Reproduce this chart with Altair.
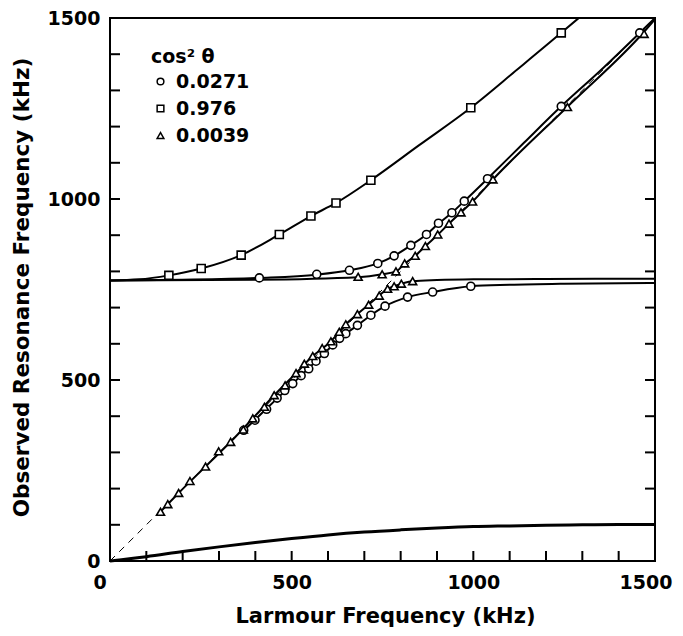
import altair as alt
import pandas as pd

# ---- data ----
series_names = ["0.0271", "0.976", "0.0039"]

sq_x = [162, 251, 361, 466, 553, 622, 718, 993, 1242]
sq_y = [789, 808, 845, 902, 953, 989, 1052, 1252, 1459]

circ_x = [411, 569, 659, 737, 782, 828, 871, 904, 941, 975, 1039, 1242, 1458,
          368, 399, 431, 460, 481, 503, 526, 547, 567, 590, 613, 632, 649, 681,
          718, 757, 819, 888, 993]
circ_y = [782, 792, 803, 822, 843, 872, 902, 933, 962, 994, 1056, 1256, 1459,
          361, 389, 419, 450, 471, 490, 512, 531, 552, 573, 597, 615, 628, 651,
          679, 704, 729, 743, 759]

tri_x = [139, 159, 189, 220, 263, 299, 332, 367, 393, 425, 452, 482, 512, 535,
         558, 584, 608, 631, 649, 681, 712, 741, 764, 782, 802, 833,
         683, 749, 787, 811, 840, 868, 902, 933, 966, 998, 1054, 1259, 1470]
tri_y = [136, 157, 188, 221, 261, 303, 329, 363, 394, 426, 458, 485, 519, 545,
         566, 588, 607, 633, 654, 682, 708, 733, 752, 759, 766, 773,
         785, 792, 800, 822, 843, 870, 902, 932, 963, 993, 1054, 1254, 1456]

# solid curves through the data
curve_sq_x = [0, 80, 162, 251, 361, 466, 553, 622, 718, 850, 993, 1120, 1242, 1290]
curve_sq_y = [775, 778, 789, 808, 845, 902, 953, 989, 1052, 1148, 1252, 1357, 1459, 1500]

curve_cu_x = [0, 200, 411, 569, 659, 737, 782, 828, 871, 904, 941, 975, 1039, 1140, 1242, 1350, 1458, 1500]
curve_cu_y = [775, 777, 782, 791, 803, 822, 843, 872, 902, 932, 962, 994, 1056, 1156, 1256, 1355, 1459, 1500]

curve_cl_x = [368, 429, 503, 567, 613, 649, 681, 718, 757, 819, 888, 993, 1100, 1250, 1500]
curve_cl_y = [360, 419, 490, 552, 596, 628, 651, 679, 704, 729, 743, 759, 763, 766, 768]

curve_tu_x = [0, 400, 683, 749, 787, 811, 840, 868, 902, 933, 966, 998, 1054, 1259, 1470, 1500]
curve_tu_y = [775, 777, 784, 792, 800, 821, 843, 870, 901, 932, 963, 993, 1054, 1255, 1462, 1497]

curve_tl_x = [139, 189, 263, 332, 393, 452, 512, 558, 608, 649, 681, 712, 741, 764, 782, 802, 833, 900, 1000, 1200, 1500]
curve_tl_y = [136, 188, 261, 329, 394, 458, 519, 566, 607, 654, 682, 708, 733, 752, 759, 766, 773, 776, 778, 779, 780]

curve_low_x = [0, 100, 200, 300, 400, 500, 600, 700, 800, 900, 1000, 1100, 1200, 1300, 1400, 1500]
curve_low_y = [0, 12, 26, 39, 51, 62, 72, 80, 86, 91, 95, 97, 99, 100, 101, 101]

diag_x = [0, 1500]
diag_y = [0, 1500]

tick_vals = [100, 200, 300, 400, 500, 600, 700, 800, 900, 1000, 1100, 1200, 1300, 1400]
label_vals = [0, 500, 1000, 1500]

# ---- tables ----
pts = pd.concat([
    pd.DataFrame({"x": circ_x, "y": circ_y, "s": series_names[0]}),
    pd.DataFrame({"x": sq_x, "y": sq_y, "s": series_names[1]}),
    pd.DataFrame({"x": tri_x, "y": tri_y, "s": series_names[2]}),
])
curves = pd.concat([
    pd.DataFrame({"x": curve_sq_x, "y": curve_sq_y, "c": "sq"}),
    pd.DataFrame({"x": curve_cu_x, "y": curve_cu_y, "c": "cu"}),
    pd.DataFrame({"x": curve_cl_x, "y": curve_cl_y, "c": "cl"}),
    pd.DataFrame({"x": curve_tu_x, "y": curve_tu_y, "c": "tu"}),
    pd.DataFrame({"x": curve_tl_x, "y": curve_tl_y, "c": "tl"}),
])
low = pd.DataFrame({"x": curve_low_x, "y": curve_low_y})
diag = pd.DataFrame({"x": diag_x, "y": diag_y})
ticks = pd.DataFrame({"x": tick_vals, "y": tick_vals})

W, H = 545, 543
FONT = "DejaVu Sans"
xs = alt.Scale(domain=[0, 1500], nice=False, zero=False)
ys = alt.Scale(domain=[0, 1500], nice=False, zero=False)

xaxis = alt.Axis(values=label_vals, format="d", title="Larmour Frequency (kHz)", ticks=False, tickSize=0,
                 domain=False, grid=False, labelFont=FONT, labelFontSize=19, labelFontWeight="bold",
                 labelColor="black", labelPadding=12, labelFlush=True, labelFlushOffset=17,
                 titleFont=FONT, titleFontSize=21, titleFontWeight="bold", titleColor="black",
                 titleX=275, titleY=61, titleBaseline="alphabetic", titleAlign="center")
yaxis = alt.Axis(values=label_vals, format="d", title="Observed Resonance Frequency (kHz)", ticks=False, tickSize=0,
                 domain=False, grid=False, labelFont=FONT, labelFontSize=19, labelFontWeight="bold",
                 labelColor="black", labelPadding=10, labelFlush=False,
                 titleFont=FONT, titleFontSize=21.5, titleFontWeight="bold", titleColor="black",
                 titleAngle=-90, titleX=-82, titleY=269, titleBaseline="alphabetic", titleAlign="center")

X = alt.X("x:Q", scale=xs, axis=xaxis)
Y = alt.Y("y:Q", scale=ys, axis=yaxis)

lines = alt.Chart(curves).mark_line(color="black", strokeWidth=2, interpolate="monotone", clip=True).encode(
    x=X, y=Y, detail="c:N")
low_line = alt.Chart(low).mark_line(color="black", strokeWidth=3, interpolate="monotone").encode(x=X, y=Y)
diag_line = alt.Chart(diag).mark_line(color="black", strokeWidth=1, strokeDash=[7, 6]).encode(x=X, y=Y)

points = alt.Chart(pts).mark_point(filled=False, fill="white", color="black",
                                   strokeWidth=1.6, size=64, opacity=1).encode(
    x=X, y=Y,
    shape=alt.Shape("s:N", scale=alt.Scale(domain=series_names, range=["circle", "square", "triangle-up"]),
                    legend=alt.Legend(title="cos² θ", orient="none", legendX=41, legendY=30,
                                      titleFont=FONT, titleFontSize=19, titleFontWeight="bold",
                                      titleColor="black", titlePadding=5,
                                      labelFont=FONT, labelFontSize=19, labelFontWeight="bold",
                                      labelColor="black", labelOffset=6, rowPadding=7,
                                      symbolSize=45, symbolStrokeWidth=1.5, padding=0)),
)

tl = alt.Chart(ticks).mark_rule(color="black", strokeWidth=2).encode(
    y=Y, x=alt.value(0), x2=alt.value(10))
tr = alt.Chart(ticks).mark_rule(color="black", strokeWidth=2).encode(
    y=Y, x=alt.value(W), x2=alt.value(W - 10))
tb = alt.Chart(ticks).mark_rule(color="black", strokeWidth=2).encode(
    x=X, y=alt.value(H), y2=alt.value(H - 10))

chart = alt.layer(lines, low_line, diag_line, tl, tr, tb, points).properties(
    width=W, height=H,
    padding={"left": 102, "top": 10, "right": 20, "bottom": 67},
    autosize=alt.AutoSizeParams(type="none"),
).configure_view(stroke="black", strokeWidth=2)

chart.save("out.html", embed_options={"renderer": "svg", "actions": False})
